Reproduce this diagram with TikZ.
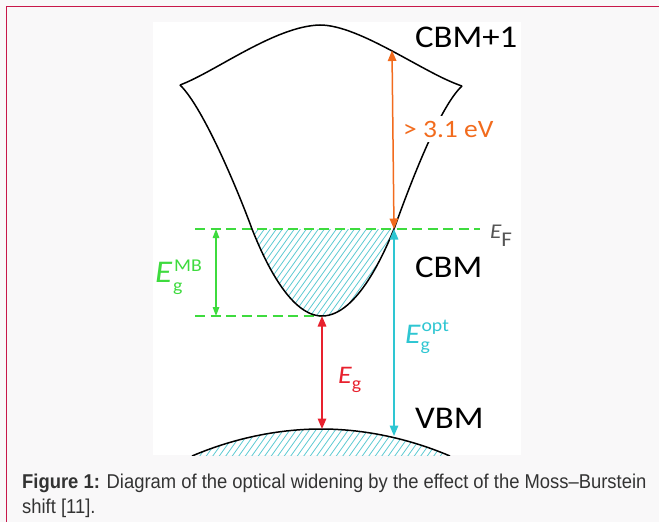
\documentclass[tikz,border=0pt]{standalone}
\usepackage{fontspec}
\setmainfont{Liberation Sans}
\newfontfamily\calib{Carlito}
\usepackage{graphicx}
\usetikzlibrary{arrows.meta}
\definecolor{bordercol}{HTML}{C8174A}
\definecolor{pagebg}{HTML}{F9F8F9}
\definecolor{efgreen}{HTML}{3EDB3E}
\definecolor{orng}{HTML}{F26B1D}
\definecolor{cyn}{HTML}{2EC6D2}
\definecolor{rd}{HTML}{E8212E}
\definecolor{hatchc}{HTML}{5CCAD2}
\definecolor{capgray}{HTML}{333333}
\definecolor{efgray}{HTML}{555555}
\newcommand\wide[1]{\scalebox{1.1}[1]{#1}}
\newcommand\fs[1]{\fontsize{#1}{#1}\selectfont}
\begin{document}
\begin{tikzpicture}[x=1pt,y=-1pt,
  band/.style={line width=1.5pt, black},
  hatch/.style={hatchc, line width=0.8pt},
  dashg/.style={efgreen, line width=1.5pt, dash pattern=on 10pt off 5.5pt},
  dim/.style={line width=1.5pt, {Triangle[length=10.5pt,width=8.5pt]}-{Triangle[length=10.5pt,width=8.5pt]}},
  dimsm/.style={line width=1.3pt, {Triangle[length=9pt,width=6.5pt]}-{Triangle[length=9pt,width=6.5pt]}},
  lbl/.style={inner sep=0pt, anchor=base west},
]
\useasboundingbox (0,0) rectangle (659,522);
% page and frame
\fill[pagebg] (0,0) rectangle (659,522);
\fill[white] (153,22) rectangle (521,455);
\draw[bordercol, line width=1.6pt] (6.5,522) -- (6.5,6.5) -- (659,6.5);

% key points
\coordinate (cusp1) at (180,85);
\coordinate (cusp2) at (462,86);
\coordinate (efl) at (195,229);
\coordinate (efr) at (480,229);
\coordinate (efx) at (394,229);
\coordinate (cbmtop) at (392,50.5);
\coordinate (cbmbot) at (322,316);
\coordinate (mbl) at (195,316);
\coordinate (mbtop) at (216,229);
\coordinate (mbbot) at (216,316);
\coordinate (vbmtop) at (322,429);
\coordinate (vbmx) at (394,436);

% hatch in conduction band
\begin{scope}
  \clip (252,229) parabola bend (322,316) (394,229) -- cycle;
  \foreach \x in {150,156,...,420} \draw[hatch] (\x,322) -- ++(70,-98);
\end{scope}
% hatch in valence band
\begin{scope}
  \clip (153,455) rectangle (521,420);
  \clip (192,456) parabola bend (321,429) (450,456) -- cycle;
  \foreach \x in {150,156.5,...,480} \draw[hatch] (\x,462) -- ++(25,-35);
\end{scope}

% dashed levels
\draw[dashg] (efl) -- (efr);
\draw[dashg] (mbl) -- (cbmbot);

% bands
\draw[band] (cusp1) .. controls (215,72) and (275,26) .. (320,25)
  .. controls (360,25) and (425,74) .. (cusp2);
\draw[band] (cusp1) .. controls (204,108) and (240,196) .. (252,229)
  parabola bend (322,316) (394,229)
  .. controls (406,196) and (438,108) .. (cusp2);
\begin{scope}
  \clip (153,420) rectangle (521,455);
  \draw[band] (192,456) parabola bend (321,429) (450,456);
\end{scope}

% arrows
\draw[dim, orng] (cbmtop) -- (efx);
\draw[dim, cyn] (efx) -- (vbmx);
\draw[dim, rd] (cbmbot) -- (vbmtop);
\draw[dimsm, efgreen] (mbtop) -- (mbbot);

% labels
\node[lbl, font=\calib\fs{31.6}] (lcbm1) at (415,47) {\wide{CBM+1}};
\node[lbl, font=\calib\fs{31.6}] (lcbm) at (415,277) {\wide{CBM}};
\node[lbl, font=\calib\fs{31.6}] (lvbm) at (415,428) {\wide{VBM}};
\node[lbl, font=\calib\fs{25}, text=orng, fill=white, inner xsep=2pt, inner ysep=5pt] (lgap) at (401,137) {\wide{> 3.1 eV}};
\node[lbl, font=\calib\fs{21}, text=efgray] (lef) at (490,238) {\wide{\itshape E}\raisebox{-8pt}{\wide{F}}};
\node[lbl, font=\calib, text=efgreen] (lmb) at (155,282)
  {\wide{\fs{31.6}\itshape E}\rlap{\hspace{2pt}\raisebox{11pt}{\wide{\fs{18}MB}}}\hspace{1pt}\raisebox{-9.5pt}{\wide{\fs{18}g}}};
\node[lbl, font=\calib, text=cyn] (lopt) at (405,343)
  {\wide{\fs{28.5}\itshape E}\rlap{\hspace{1pt}\raisebox{12pt}{\wide{\fs{18}opt}}}\raisebox{-7pt}{\wide{\fs{18}g}}};
\node[lbl, font=\calib, text=rd] (leg) at (338,383)
  {\wide{\fs{25.3}\itshape E}\raisebox{-6pt}{\wide{\fs{18}g}}};

% caption
\node[lbl, text=capgray, font=\fs{20}] (cap1) at (22,488)
  {\scalebox{0.92}[1]{\textbf{Figure 1:} Diagram of the optical widening by the effect of the Moss–Burstein}};
\node[lbl, text=capgray, font=\fs{20}] (cap2) at (22,513)
  {\scalebox{0.92}[1]{shift [11].}};
\end{tikzpicture}
\end{document}
